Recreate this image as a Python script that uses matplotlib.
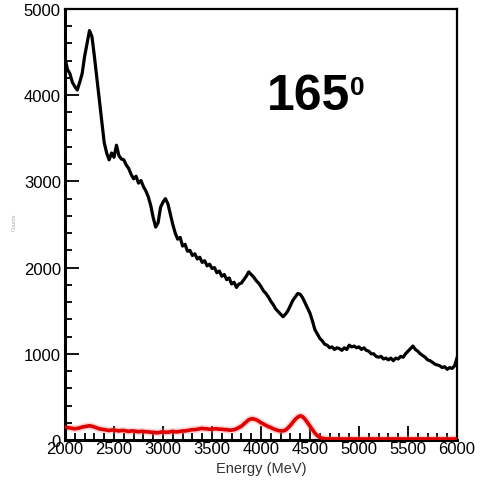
import numpy as np
import matplotlib
matplotlib.use("Agg")
import matplotlib.pyplot as plt
from matplotlib.ticker import MultipleLocator

plt.rcParams['font.family'] = ['Liberation Sans', 'DejaVu Sans']

# Energy grid (MeV) and spectra, 25 MeV bins
energy = np.arange(2000, 6001, 25)

counts_total = [
    4430, 4300, 4250, 4150, 4100, 4060, 4150, 4250, 4450, 4600,
    4750, 4680, 4450, 4200, 3950, 3700, 3450, 3330, 3250, 3330,
    3280, 3420, 3300, 3260, 3250, 3190, 3150, 3080, 3030, 3060,
    2980, 3010, 2940, 2890, 2820, 2720, 2580, 2470, 2520, 2700,
    2760, 2800, 2740, 2620, 2500, 2400, 2330, 2350, 2250, 2270,
    2190, 2200, 2140, 2160, 2100, 2120, 2060, 2080, 2020, 2040,
    1990, 2000, 1940, 1960, 1900, 1920, 1860, 1880, 1810, 1830,
    1770, 1810, 1820, 1860, 1900, 1950, 1920, 1890, 1850, 1820,
    1780, 1730, 1700, 1660, 1610, 1570, 1520, 1490, 1460, 1430,
    1460, 1500, 1560, 1620, 1660, 1700, 1690, 1650, 1590, 1530,
    1470, 1380, 1280, 1230, 1180, 1150, 1110, 1100, 1070, 1080,
    1050, 1070, 1060, 1040, 1070, 1050, 1100, 1080, 1090, 1070,
    1080, 1050, 1070, 1040, 1030, 1000, 1000, 970, 960, 970,
    940, 950, 930, 950, 920, 950, 940, 970, 960, 1000,
    1030, 1060, 1090, 1050, 1030, 1000, 980, 960, 930, 920,
    900, 880, 870, 860, 840, 850, 820, 840, 830, 860,
    950,
]

counts_gated = [
    150, 145, 140, 135, 130, 135, 140, 150, 155, 160,
    165, 160, 150, 140, 130, 125, 120, 115, 110, 115,
    115, 110, 105, 110, 110, 105, 100, 105, 105, 100,
    95, 100, 100, 95, 95, 90, 90, 85, 85, 90,
    95, 90, 90, 95, 100, 95, 95, 100, 105, 105,
    110, 115, 120, 120, 125, 130, 135, 130, 130, 125,
    125, 130, 130, 125, 125, 120, 120, 115, 115, 120,
    130, 145, 160, 185, 210, 235, 245, 245, 235, 220,
    200, 185, 170, 155, 145, 130, 120, 110, 105, 105,
    115, 140, 170, 205, 240, 265, 280, 270, 240, 200,
    160, 120, 80, 50, 30, 20, 15, 12, 12, 12,
    12, 12, 12, 12, 12, 12, 12, 12, 12, 12,
    12, 12, 12, 12, 12, 12, 12, 12, 12, 12,
    12, 12, 12, 12, 12, 12, 12, 12, 12, 12,
    12, 12, 12, 12, 12, 12, 12, 12, 12, 12,
    12, 12, 12, 12, 12, 12, 12, 12, 12, 12,
    12,
]

xticks = [2000, 2500, 3000, 3500, 4000, 4500, 5000, 5500, 6000]
yticks = [0, 1000, 2000, 3000, 4000, 5000]

W, H = 491, 485
fig = plt.figure(figsize=(W / 100, H / 100), dpi=100)
ax = fig.add_axes([65 / W, (H - 441) / H, (457 - 65) / W, (441 - 10) / H])

# soft red glow under the gated spectrum
ax.plot(energy, counts_gated, color='#ff8080', lw=5, alpha=0.35, zorder=2)
ax.plot(energy, counts_gated, color='#e00000', lw=2.6, zorder=3)
ax.plot(energy, counts_total, color='black', lw=2.3, zorder=4)

ax.set_xlim(2000, 6000)
ax.set_ylim(0, 5000)
ax.set_xticks(xticks)
ax.set_yticks(yticks)
ax.xaxis.set_minor_locator(MultipleLocator(100))
ax.yaxis.set_minor_locator(MultipleLocator(200))
ax.tick_params(axis='both', which='both', direction='in', top=False, right=False,
               labelsize=12, colors='black')
ax.tick_params(axis='both', which='major', length=10, width=1.3)
ax.tick_params(axis='both', which='minor', length=5, width=1.3)
ax.tick_params(axis='x', which='major', pad=1)
ax.tick_params(axis='y', which='major', pad=3)

for side in ['left', 'bottom']:
    ax.spines[side].set_linewidth(2.2)
for side in ['top', 'right']:
    ax.spines[side].set_linewidth(1.6)

ax.set_xlabel('Energy (MeV)', fontsize=10.5, color='#333333', labelpad=3)
fig.text(14 / W, 1 - 222 / H, 'Counts', rotation=90, fontsize=4,
         color='#aaaaaa', ha='center', va='center')

ax.text(0.515, 0.768, '165', transform=ax.transAxes, fontsize=36,
         fontweight='bold', ha='left', va='baseline')
ax.text(0.727, 0.803, '0', transform=ax.transAxes, fontsize=19,
        fontweight='bold', ha='left', va='baseline')

fig.savefig('out.png', dpi=100)
